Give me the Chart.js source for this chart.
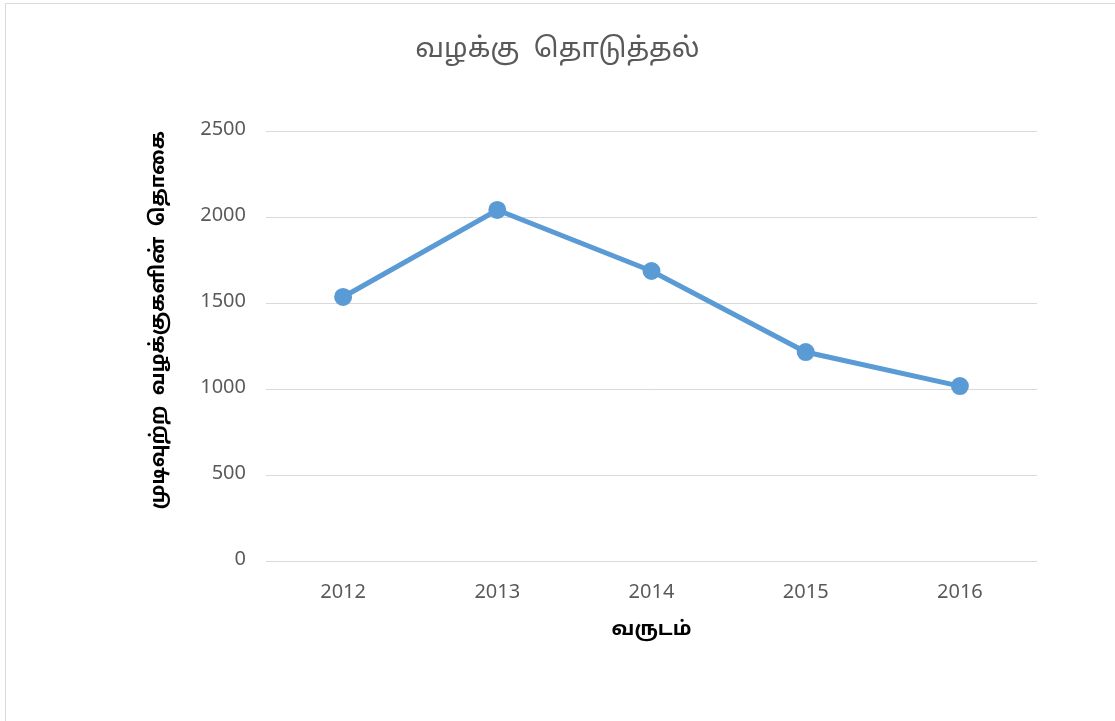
<!DOCTYPE html>
<html>
<head>
<meta charset="utf-8">
<script src="https://cdn.jsdelivr.net/npm/chart.js@4/dist/chart.umd.min.js"></script>
<style>
  html, body { margin: 0; padding: 0; background: #ffffff; }
  #wrap { width: 1115px; height: 721px; position: relative; }
</style>
</head>
<body>
<div id="wrap"><canvas id="c" width="1115" height="721"></canvas></div>
<script>
const categories = ['2012', '2013', '2014', '2015', '2016'];
const completedCases = [1535, 2041, 1686, 1215, 1017];
const yTicks = [0, 500, 1000, 1500, 2000, 2500];
const chartTitle = 'வழக்கு  தொடுத்தல்';
const xTitle = 'வருடம்';
const yTitle = 'முடிவுற்ற  வழக்குகளின்  தொகை';

const FONT = '"Noto Sans Tamil", "Lohit Tamil", "Latha", "Open Sans", "Liberation Sans", "DejaVu Sans", sans-serif';

const frame = {
  id: 'frame',
  beforeDraw(chart) {
    const ctx = chart.ctx;
    ctx.save();
    ctx.fillStyle = '#ffffff';
    ctx.fillRect(0, 0, chart.width, chart.height);
    ctx.strokeStyle = '#d9d9d9';
    ctx.lineWidth = 1;
    ctx.beginPath();
    ctx.moveTo(5.5, chart.height + 5);
    ctx.lineTo(5.5, 3.5);
    ctx.lineTo(chart.width + 5, 3.5);
    ctx.stroke();
    ctx.restore();
  }
};

new Chart(document.getElementById('c'), {
  type: 'line',
  data: {
    labels: categories,
    datasets: [{
      data: completedCases,
      borderColor: '#5b9bd5',
      backgroundColor: '#5b9bd5',
      borderWidth: 5,
      pointRadius: 6.5,
      pointHoverRadius: 6.5,
      pointBackgroundColor: '#5b9bd5',
      pointBorderColor: '#5b9bd5',
      tension: 0,
      fill: false
    }]
  },
  options: {
    responsive: false,
    animation: false,
    devicePixelRatio: 1,
    layout: { padding: { left: 0, right: 0, top: 0, bottom: 78 } },
    plugins: {
      legend: { display: false },
      tooltip: { enabled: false },
      title: {
        display: true,
        text: chartTitle,
        color: '#595959',
        font: { family: FONT, size: 27.5, weight: 'normal' },
        padding: { top: 35, bottom: 63 }
      }
    },
    scales: {
      x: {
        offset: true,
        grid: { display: false, drawTicks: false },
        border: { display: false },
        ticks: { color: '#595959', font: { family: FONT, size: 20 }, padding: 21 },
        title: {
          display: true, text: xTitle, color: '#000000',
          font: { family: FONT, size: 20, weight: 'bold' },
          padding: { top: 0, bottom: 0 }
        },
        afterFit(scale) { scale.height = 82; }
      },
      y: {
        min: 0, max: 2500,
        afterBuildTicks(scale) { scale.ticks = yTicks.map(v => ({ value: v })); },
        grid: { color: '#d9d9d9', lineWidth: 1, drawTicks: false },
        border: { display: false },
        ticks: {
          color: '#595959', font: { family: FONT, size: 20 }, padding: 20,
          callback: v => String(v)
        },
        title: {
          display: true, text: yTitle, color: '#000000', align: 'end',
          font: { family: FONT, size: 20, weight: 'bold' },
          padding: { top: 148, bottom: 0 }
        },
        afterFit(scale) { scale.width = 266; }
      },
      yRight: {
        position: 'right',
        display: true,
        grid: { display: false, drawTicks: false },
        border: { display: false },
        ticks: { display: false },
        afterFit(scale) { scale.width = 78; }
      }
    }
  },
  plugins: [frame]
});
</script>
</body>
</html>
